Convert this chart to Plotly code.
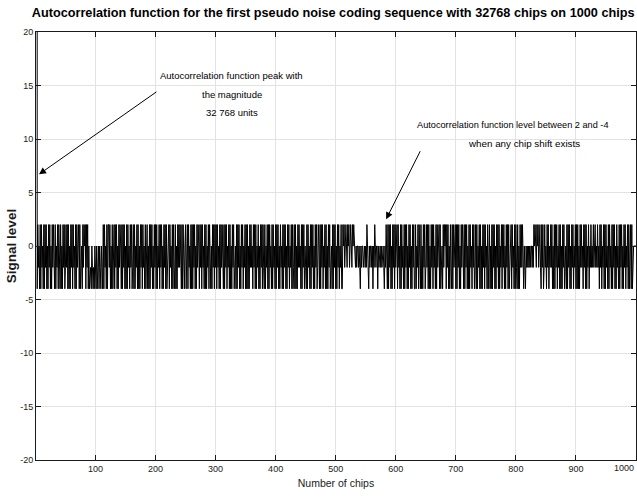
import plotly.graph_objects as go

# Autocorrelation peak at zero shift
peak_value = 32768

# Autocorrelation levels, one character per chip shift
# A = 2, B = 0, C = -2, D = -4
level_codes = {"A": 2, "B": 0, "C": -2, "D": -4}
rows = [
    "ADACBDADAC BDADACADBD ACADBDACAD DADBCADACD ADBDACADCA CADADBDACA DACBDADACB ADADCBDACA BADACADBDC CDBCDCDBCD",
    "BDCBDBCDBC DADACBDADA ACADBDADCA DACADBDACA BDADACADBD ADACBDACAD CADADBCADA DBDACADACB DADCADBDAD ACADBDACAD",
    "ADBCADACAD BDACADADCB ADACBDADAC DADBDACACA BDADACDBAD CADACBDADA DACADBDACA BDACADACBD ADADBCADAC DBDACADACA",
    "DACBDADACA BDADACADBC ADADBDACAD CBDADACADB DACADBCADA DADBDACACB DACADADBCA DBDACADACD ADBCADADAC BDADACBDAD",
    "ACADBDACBD ADACADBDAC ADBCADADCA DADBDACACB DADACADBCD ADACBDADAC ADBDACADCA BDADACADBC ADADBDACAD CBDADACADB",
    "DACADBCADD ABACBABCAB ACBABCABAB BCBCBBCBCD BCBBCBBCBC ABCDBCBBCB DBCABCBBDB CBBCBCBBCD BCABDADACA DBDACADACB",
    "ADACBDADAC BDADACADBD ACADBDACAD DADBCADACD ADBDACADCA CADADBDACA DACBDADACB ADADCBDACA BADACADBDA CDADACBADA",
    "DACADBDACA BDADACADBD ADACBDACAD CADADBCADA DBDACADACB DADCADBDAD ACADBDACAD ADBCADACAD BDACADADCB ADACBDADAC",
    "DADBDACACA BDBCDBCBCB CBCBBCBCAB ABCABACBAC DACADCACBD ACADBCACAD BDADACADBC ADADBDACAD CBDADACADB DACADBCADA",
    "DADBDACACB DACADADBCA DBCACBCACB ACBCACBDAC ADBCADADAC BDADACBDAD ACADBDACBD ADACADBDAC ADBCADADCA DADBBBBBBD",
]
codes = "".join(rows).replace(" ", "")
signal = [peak_value] + [level_codes[c] for c in codes][:999]
chips = list(range(1, len(signal) + 1))

x_ticks = [100, 200, 300, 400, 500, 600, 700, 800, 900, 1000]
y_ticks = [-20, -15, -10, -5, 0, 5, 10, 15, 20]

title_text = "Autocorrelation function for the first pseudo noise coding sequence with 32768 chips on 1000 chips"
note1_lines = ["Autocorrelation function peak with", "the magnitude", "32 768 units"]
note2_lines = ["Autocorrelation function level between 2 and -4", "when any chip shift exists"]

FONT = "Liberation Sans, Arial, sans-serif"
INK = "#1a1a1a"

fig = go.Figure()
fig.add_trace(go.Scatter(x=chips, y=signal, mode="lines",
                         line=dict(color="black", width=1), showlegend=False,
                         hoverinfo="skip"))

axis_common = dict(showline=True, linecolor=INK, linewidth=1, mirror="ticks",
                   ticks="inside", ticklen=5, tickcolor=INK, tickwidth=1,
                   showgrid=True, gridcolor="#e3e3e3", gridwidth=1, automargin=False,
                   zeroline=False, tickfont=dict(family=FONT, size=9, color=INK))

# last x tick label is drawn separately (right-aligned) so it stays inside the page
x_ticktext = [str(v) for v in x_ticks[:-1]] + [""]
fig.update_xaxes(range=[1, 1000], tickvals=x_ticks, ticktext=x_ticktext,
                 title=dict(text="Number of chips", font=dict(family=FONT, size=10.5, color=INK), standoff=6),
                 **axis_common)
fig.update_yaxes(range=[-20, 20], tickvals=y_ticks, ticktext=[str(v) for v in y_ticks],
                 title=dict(text="<b>Signal level</b>", font=dict(family=FONT, size=13.5, color=INK), standoff=0),
                 **axis_common)

annotations = []
# arrows
annotations.append(dict(x=6, y=6.7, ax=204, ay=14.5, xref="x", yref="y", axref="x", ayref="y",
                        text="", showarrow=True, arrowhead=2, arrowsize=1.4, arrowwidth=1, arrowcolor="black"))
annotations.append(dict(x=584, y=2.5, ax=642, ay=9.0, xref="x", yref="y", axref="x", ayref="y",
                        text="", showarrow=True, arrowhead=2, arrowsize=1.4, arrowwidth=1, arrowcolor="black"))
for line, yy in zip(note1_lines, [15.9, 14.2, 12.5]):
    annotations.append(dict(x=327, y=yy, xref="x", yref="y", text=line, showarrow=False,
                            font=dict(family=FONT, size=9.5, color="black"), xanchor="center", yanchor="middle"))
for line, xx, yy, fs in zip(note2_lines, [795, 813], [11.3, 9.6], [9.2, 9.8]):
    annotations.append(dict(x=xx, y=yy, xref="x", yref="y", text=line, showarrow=False,
                            font=dict(family=FONT, size=fs, color="black"), xanchor="center", yanchor="middle"))
annotations.append(dict(x=1, y=-0.0185, xref="paper", yref="paper", text=str(x_ticks[-1]), showarrow=False,
                        font=dict(family=FONT, size=9, color=INK), xanchor="right", yanchor="middle",
                        xshift=0))

fig.update_layout(
    width=637, height=498,
    margin=dict(l=36, r=1, t=32, b=38, autoexpand=False),
    paper_bgcolor="white", plot_bgcolor="white",
    title=dict(text="<b>" + title_text + "</b>", x=0.523, xanchor="center", y=0.975, yanchor="middle",
               font=dict(family=FONT, size=12.7, color="black")),
    annotations=annotations,
)

fig.write_html("out.html")
